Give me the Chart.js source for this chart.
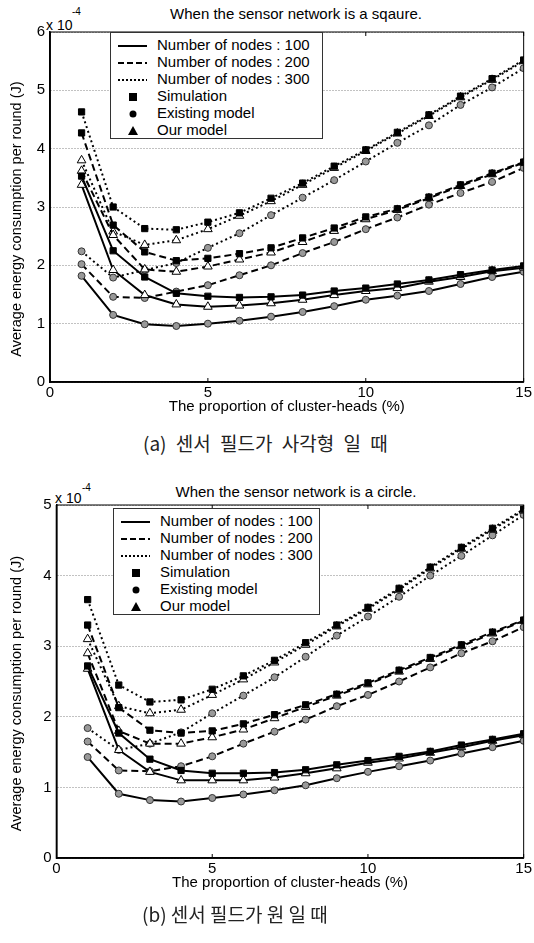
<!DOCTYPE html>
<html>
<head>
<meta charset="utf-8">
<script src="https://cdn.jsdelivr.net/npm/chart.js@4.4.1/dist/chart.umd.min.js"></script>
<style>
  body { margin: 0; background: #fff; width: 534px; height: 943px; position: relative; overflow: hidden;
         font-family: "Liberation Sans", Arial, sans-serif; color: #000; }
  canvas { position: absolute; left: 0; }
  .title { position: absolute; left: 146px; width: 300px; text-align: center; font-size: 15px; line-height: 15px; }
  .exp { position: absolute; font-size: 14px; line-height: 14px; }
  .exp sup { position: absolute; font-size: 10px; line-height: 10px; }
  .legend { position: absolute; background: #fff; border: 1px solid #333; box-sizing: border-box;
            padding-top: 3px; font-size: 15px; }
  .legend div { height: 17px; line-height: 17px; white-space: nowrap; }
  .legend svg { display: inline-block; vertical-align: middle; width: 30px; height: 12px; margin: 0 9px 0 7px; }
  .caption { position: absolute; font-family: "Noto Sans CJK KR", sans-serif; font-size: 19px; line-height: 19px; color: #222; }
</style>
</head>
<body>

<div class="title" style="top:6px">When the sensor network is a sqaure.</div>
<div class="exp" style="left:46px;top:18px">x 10<sup style="left:26px;top:-11px">-4</sup></div>
<canvas id="square" width="534" height="425" style="top:0"></canvas>
<div class="legend" id="legend-square" style="left:110px;top:32px;width:213px;height:107px"></div>
<div class="caption" style="left:143px;top:433px;word-spacing:5px">(a) 센서 필드가 사각형 일 때</div>

<div class="title" style="top:484px">When the sensor network is a circle.</div>
<div class="exp" style="left:55px;top:491px">x 10<sup style="left:27px;top:-8px">-4</sup></div>
<canvas id="circle" width="534" height="431" style="top:470px"></canvas>
<div class="legend" id="legend-circle" style="left:113px;top:508px;width:207px;height:107px"></div>
<div class="caption" style="left:142px;top:904px">(b) 센서 필드가 원 일 때</div>

<script>
// proportion of cluster-heads (%)
const heads = [1, 2, 3, 4, 5, 6, 7, 8, 9, 10, 11, 12, 13, 14, 15];

// square field, energy in 1e-4 J
const sqSim100 = [3.53, 2.25, 1.80, 1.52, 1.47, 1.45, 1.46, 1.49, 1.56, 1.61, 1.68, 1.75, 1.84, 1.92, 1.99];
const sqOur100 = [3.38, 1.92, 1.49, 1.33, 1.29, 1.31, 1.35, 1.41, 1.49, 1.56, 1.61, 1.72, 1.80, 1.90, 1.96];
const sqExist100 = [1.82, 1.15, 0.99, 0.96, 1.00, 1.05, 1.12, 1.20, 1.30, 1.41, 1.48, 1.56, 1.68, 1.80, 1.89];
const sqSim200 = [4.27, 2.69, 2.23, 2.08, 2.12, 2.20, 2.30, 2.47, 2.64, 2.83, 2.97, 3.17, 3.38, 3.58, 3.77];
const sqOur200 = [3.62, 2.52, 1.93, 1.89, 1.98, 2.10, 2.22, 2.40, 2.59, 2.79, 2.95, 3.15, 3.36, 3.56, 3.76];
const sqExist200 = [2.02, 1.46, 1.44, 1.55, 1.66, 1.83, 2.00, 2.21, 2.40, 2.62, 2.82, 3.04, 3.24, 3.43, 3.67];
const sqSim300 = [4.63, 3.00, 2.63, 2.61, 2.74, 2.90, 3.15, 3.41, 3.70, 3.98, 4.28, 4.58, 4.90, 5.20, 5.52];
const sqOur300 = [3.80, 2.58, 2.35, 2.43, 2.62, 2.85, 3.10, 3.38, 3.67, 3.96, 4.26, 4.56, 4.88, 5.18, 5.50];
const sqExist300 = [2.24, 1.79, 1.92, 2.04, 2.30, 2.55, 2.86, 3.16, 3.46, 3.78, 4.10, 4.40, 4.75, 5.05, 5.38];

// circle field, energy in 1e-4 J
const ciSim100 = [2.72, 1.77, 1.40, 1.24, 1.20, 1.20, 1.21, 1.25, 1.32, 1.38, 1.44, 1.51, 1.60, 1.68, 1.76];
const ciOur100 = [2.68, 1.53, 1.22, 1.10, 1.10, 1.10, 1.14, 1.20, 1.27, 1.35, 1.41, 1.49, 1.57, 1.66, 1.74];
const ciExist100 = [1.43, 0.91, 0.82, 0.80, 0.85, 0.90, 0.96, 1.03, 1.13, 1.22, 1.30, 1.38, 1.48, 1.57, 1.66];
const ciSim200 = [3.30, 2.13, 1.81, 1.77, 1.80, 1.90, 2.03, 2.17, 2.32, 2.48, 2.66, 2.84, 3.02, 3.20, 3.37];
const ciOur200 = [2.90, 1.80, 1.62, 1.62, 1.71, 1.82, 1.98, 2.14, 2.30, 2.46, 2.64, 2.82, 3.00, 3.18, 3.36];
const ciExist200 = [1.65, 1.24, 1.23, 1.30, 1.44, 1.62, 1.79, 1.96, 2.15, 2.31, 2.50, 2.70, 2.90, 3.07, 3.27];
const ciSim300 = [3.66, 2.45, 2.21, 2.24, 2.39, 2.58, 2.80, 3.05, 3.30, 3.55, 3.82, 4.12, 4.40, 4.67, 4.94];
const ciOur300 = [3.10, 2.15, 2.05, 2.10, 2.31, 2.53, 2.77, 3.02, 3.28, 3.53, 3.80, 4.10, 4.38, 4.65, 4.92];
const ciExist300 = [1.84, 1.53, 1.62, 1.78, 2.05, 2.30, 2.56, 2.85, 3.15, 3.42, 3.70, 4.00, 4.28, 4.57, 4.86];

const legendLabels = ['Number of nodes : 100', 'Number of nodes : 200', 'Number of nodes : 300',
                      'Simulation', 'Existing model', 'Our model'];

const dashes = { 100: [], 200: [7, 4], 300: [2, 3] };
const markers = {
    sim: { pointStyle: 'rect', pointRadius: 4.4, pointBackgroundColor: '#000', pointBorderColor: '#000' },
    exist: { pointStyle: 'circle', pointRadius: 3.5, pointBackgroundColor: '#999', pointBorderColor: '#333' },
    our: { pointStyle: 'triangle', pointRadius: 5, pointBackgroundColor: '#fff', pointBorderColor: '#000' }
};

Chart.defaults.font.family = '"Liberation Sans", Arial, sans-serif';
Chart.defaults.font.size = 15;
Chart.defaults.color = '#000';

// box round the plot and the little inward ticks, like matlab
const framePlugin = {
    id: 'frame',
    afterDraw(chart) {
        const { ctx, chartArea: a } = chart;
        const xs = chart.scales.x;
        ctx.save();
        ctx.strokeStyle = '#000';
        ctx.lineWidth = 1;
        ctx.strokeRect(a.left, a.top, a.right - a.left, a.bottom - a.top);
        ctx.lineWidth = 1.6;
        ctx.beginPath();
        ctx.moveTo(a.left, a.top);
        ctx.lineTo(a.left, a.bottom);
        ctx.lineTo(a.right, a.bottom);
        ctx.stroke();
        ctx.lineWidth = 1;
        xs.ticks.forEach(function (t) {
            const px = xs.getPixelForValue(t.value);
            ctx.beginPath();
            ctx.moveTo(px, a.bottom);
            ctx.lineTo(px, a.bottom - 4);
            ctx.moveTo(px, a.top);
            ctx.lineTo(px, a.top + 4);
            ctx.stroke();
        });
        ctx.restore();
    }
};

function series(values, nodes, kind) {
    return Object.assign({
        label: kind + ' ' + nodes,
        data: heads.map(function (h, i) { return { x: h, y: values[i] }; }),
        borderColor: '#000',
        borderWidth: 2,
        borderDash: dashes[nodes],
        pointBorderWidth: 1,
        tension: 0,
        fill: false
    }, markers[kind]);
}

function makeChart(id, groups, yMax, padTop, axisLeft) {
    const datasets = [];
    groups.forEach(function (g) {
        datasets.push(series(g[0], g[3], 'sim'));
        datasets.push(series(g[1], g[3], 'our'));
        datasets.push(series(g[2], g[3], 'exist'));
    });

    return new Chart(document.getElementById(id), {
        type: 'line',
        data: { datasets: datasets },
        options: {
            responsive: false,
            animation: false,
            layout: { padding: { top: padTop, right: 9.5, left: 0, bottom: 0 } },
            plugins: { legend: { display: false }, tooltip: { enabled: false } },
            scales: {
                x: {
                    type: 'linear', min: 0, max: 15,
                    ticks: { stepSize: 5, padding: 2 },
                    grid: { display: false, drawTicks: false },
                    border: { display: true, color: '#000', width: 1.5 },
                    title: { display: true, text: 'The proportion of cluster-heads (%)', padding: { top: 0, bottom: 9.5 } },
                    afterFit: function (s) { s.height = 43; }
                },
                y: {
                    min: 0, max: yMax,
                    ticks: { stepSize: 1, padding: 5 },
                    grid: { color: '#666', lineWidth: 0.8, drawTicks: false },
                    border: { display: true, color: '#000', width: 1.5, dash: [1, 2] },
                    // trailing spaces push the text a little below the axis middle, as in the source
                    title: { display: true, text: 'Average energy consumption per round (J)      ',
                             font: { size: 14.5 }, padding: { top: 8.5, bottom: 0 } },
                    afterFit: function (s) { s.width = axisLeft; }
                }
            }
        },
        plugins: [framePlugin]
    });
}

function buildLegend(id) {
    const box = document.getElementById(id);
    const icons = [
        '<line x1="0" y1="6" x2="29" y2="6" stroke="#000" stroke-width="2"/>',
        '<line x1="0" y1="6" x2="29" y2="6" stroke="#000" stroke-width="2" stroke-dasharray="6,3"/>',
        '<line x1="0" y1="6" x2="29" y2="6" stroke="#000" stroke-width="2" stroke-dasharray="2,2"/>',
        '<rect x="11" y="2" width="8" height="8" fill="#000"/>',
        '<circle cx="15" cy="6" r="3.5" fill="#000"/>',
        '<polygon points="15,1 20,10 10,10" fill="#000"/>'
    ];
    legendLabels.forEach(function (text, i) {
        const row = document.createElement('div');
        row.innerHTML = '<svg viewBox="0 0 30 12">' + icons[i] + '</svg>' + text;
        box.appendChild(row);
    });
}

makeChart('square', [
    [sqSim100, sqOur100, sqExist100, 100],
    [sqSim200, sqOur200, sqExist200, 200],
    [sqSim300, sqOur300, sqExist300, 300]
], 6, 32, 50);

makeChart('circle', [
    [ciSim100, ciOur100, ciExist100, 100],
    [ciSim200, ciOur200, ciExist200, 200],
    [ciSim300, ciOur300, ciExist300, 300]
], 5, 35, 56.5);

buildLegend('legend-square');
buildLegend('legend-circle');
</script>
</body>
</html>
